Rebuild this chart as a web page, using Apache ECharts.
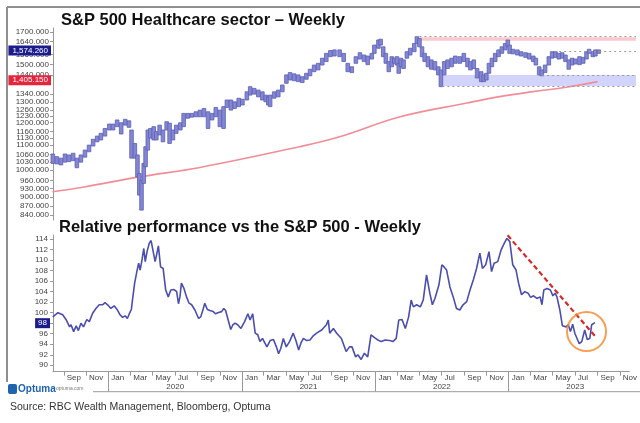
<!DOCTYPE html>
<html><head><meta charset="utf-8">
<script src="https://cdn.jsdelivr.net/npm/echarts@6/dist/echarts.min.js"></script>
<style>html,body{margin:0;padding:0;background:#fff}#c{width:640px;height:423px}</style>
</head><body><div id="c"></div>
<script>
// ---------- DATA ----------
const topDates = ['2019-08-02','2019-08-13','2019-08-24','2019-09-04','2019-09-15','2019-09-26','2019-10-06','2019-10-17','2019-10-28','2019-11-08','2019-11-19','2019-11-30','2019-12-10','2019-12-21','2020-01-02','2020-01-12','2020-01-23','2020-02-03','2020-02-14','2020-02-24','2020-03-02','2020-03-11','2020-03-18','2020-03-23','2020-03-29','2020-04-04','2020-04-09','2020-04-15','2020-04-22','2020-05-01','2020-05-08','2020-05-17','2020-05-26','2020-06-05','2020-06-13','2020-06-22','2020-07-01','2020-07-12','2020-07-21','2020-08-01','2020-08-12','2020-08-23','2020-09-03','2020-09-14','2020-09-25','2020-10-06','2020-10-16','2020-10-27','2020-11-06','2020-11-15','2020-11-26','2020-12-06','2020-12-17','2020-12-27','2021-01-08','2021-01-17','2021-01-28','2021-02-08','2021-02-19','2021-02-28','2021-03-07','2021-03-12','2021-03-23','2021-04-03','2021-04-14','2021-04-25','2021-05-05','2021-05-16','2021-05-27','2021-06-07','2021-06-18','2021-06-28','2021-07-09','2021-07-20','2021-07-31','2021-08-11','2021-08-22','2021-09-02','2021-09-16','2021-09-27','2021-10-08','2021-10-19','2021-10-30','2021-11-10','2021-11-21','2021-12-01','2021-12-12','2021-12-19','2021-12-30','2022-01-05','2022-01-12','2022-01-19','2022-01-27','2022-02-04','2022-02-11','2022-02-18','2022-02-23','2022-03-01','2022-03-08','2022-03-17','2022-03-26','2022-04-06','2022-04-13','2022-04-20','2022-04-27','2022-05-04','2022-05-13','2022-05-22','2022-06-01','2022-06-10','2022-06-17','2022-06-26','2022-07-05','2022-07-16','2022-07-26','2022-08-07','2022-08-18','2022-08-28','2022-09-05','2022-09-14','2022-09-23','2022-10-04','2022-10-11','2022-10-18','2022-10-25','2022-11-02','2022-11-11','2022-11-20','2022-11-29','2022-12-08','2022-12-15','2022-12-20','2022-12-29','2023-01-10','2023-01-20','2023-02-01','2023-02-11','2023-02-22','2023-03-01','2023-03-10','2023-03-17','2023-03-26','2023-04-05','2023-04-14','2023-04-23','2023-05-02','2023-05-11','2023-05-20','2023-05-29','2023-06-07','2023-06-16','2023-06-27','2023-07-07','2023-07-16','2023-07-23','2023-08-02','2023-08-09','2023-08-18'];
const topHigh = [1063,1052,1046,1063,1059,1066,1046,1059,1079,1100,1125,1139,1151,1173,1193,1193,1212,1199,1215,1208,1166,1107,1059,986,961,1025,1093,1166,1173,1181,1159,1188,1166,1204,1197,1166,1188,1199,1243,1243,1243,1251,1259,1267,1251,1243,1272,1259,1276,1309,1309,1300,1318,1313,1351,1378,1369,1360,1351,1334,1325,1334,1351,1360,1387,1442,1455,1448,1442,1432,1451,1474,1498,1508,1538,1567,1584,1588,1588,1567,1508,1488,1547,1571,1557,1551,1567,1618,1650,1655,1607,1567,1518,1547,1538,1547,1508,1538,1528,1577,1598,1628,1671,1660,1607,1567,1547,1528,1518,1488,1470,1518,1528,1538,1551,1547,1567,1538,1518,1528,1478,1460,1442,1451,1508,1538,1567,1588,1607,1628,1650,1618,1592,1588,1577,1571,1567,1551,1538,1488,1470,1498,1547,1577,1577,1567,1571,1557,1528,1538,1533,1547,1543,1577,1592,1577,1588,1588];
const topLow = [1025,1023,1019,1030,1032,1036,1008,1030,1050,1072,1096,1114,1122,1139,1166,1166,1181,1148,1188,1178,1046,1046,973,907,856,949,1012,1079,1130,1122,1122,1144,1114,1166,1107,1122,1151,1166,1181,1220,1225,1227,1227,1227,1173,1212,1227,1181,1173,1272,1259,1267,1276,1284,1309,1334,1339,1325,1309,1300,1284,1276,1318,1325,1351,1396,1414,1410,1405,1400,1418,1437,1460,1470,1498,1518,1547,1551,1547,1518,1460,1455,1508,1533,1518,1500,1533,1567,1598,1618,1547,1508,1460,1488,1508,1498,1451,1488,1478,1538,1557,1577,1628,1607,1547,1518,1488,1474,1470,1442,1378,1442,1478,1488,1508,1508,1518,1488,1470,1478,1425,1405,1405,1414,1451,1488,1518,1547,1567,1588,1607,1567,1564,1557,1551,1543,1533,1518,1498,1442,1437,1455,1498,1538,1543,1533,1538,1518,1474,1498,1504,1500,1508,1533,1567,1547,1551,1567];

const maDates = ['2019-08-01','2019-10-22','2020-03-23','2020-09-03','2021-05-30','2021-09-16','2022-02-27','2022-08-26','2022-11-23','2023-02-21','2023-05-22','2023-08-15'];
const maValues = [919,935,973,1009,1093,1136,1227,1294,1326,1352,1375,1405];

const relDates = ['2019-08-02','2019-08-16','2019-08-29','2019-09-08','2019-09-17','2019-09-21','2019-09-28','2019-10-05','2019-10-11','2019-10-18','2019-10-25','2019-11-03','2019-11-10','2019-11-19','2019-11-28','2019-12-07','2019-12-16','2019-12-23','2019-12-30','2020-01-08','2020-01-17','2020-01-26','2020-02-02','2020-02-09','2020-02-16','2020-02-22','2020-02-28','2020-03-04','2020-03-07','2020-03-13','2020-03-19','2020-03-24','2020-03-28','2020-04-02','2020-04-07','2020-04-11','2020-04-16','2020-04-22','2020-04-27','2020-05-02','2020-05-08','2020-05-13','2020-05-17','2020-05-23','2020-05-30','2020-06-06','2020-06-13','2020-06-20','2020-06-29','2020-07-06','2020-07-11','2020-07-15','2020-07-19','2020-07-26','2020-08-02','2020-08-09','2020-08-16','2020-08-25','2020-09-04','2020-09-10','2020-09-17','2020-09-21','2020-09-28','2020-10-05','2020-10-14','2020-10-20','2020-10-27','2020-11-06','2020-11-12','2020-11-17','2020-11-24','2020-12-01','2020-12-07','2020-12-13','2020-12-20','2020-12-29','2021-01-08','2021-01-17','2021-01-23','2021-01-30','2021-02-06','2021-02-13','2021-02-19','2021-02-26','2021-03-03','2021-03-10','2021-03-19','2021-03-28','2021-04-05','2021-04-11','2021-04-17','2021-04-24','2021-05-02','2021-05-11','2021-05-21','2021-05-28','2021-06-05','2021-06-11','2021-06-18','2021-06-27','2021-07-06','2021-07-15','2021-07-24','2021-08-07','2021-08-20','2021-08-25','2021-08-29','2021-09-08','2021-09-17','2021-09-30','2021-10-13','2021-10-22','2021-10-29','2021-11-08','2021-11-14','2021-11-23','2021-12-02','2021-12-11','2021-12-20','2021-12-29','2022-01-08','2022-01-17','2022-01-28','2022-02-09','2022-02-18','2022-02-27','2022-03-06','2022-03-15','2022-03-24','2022-04-02','2022-04-09','2022-04-15','2022-04-24','2022-05-04','2022-05-12','2022-05-21','2022-05-30','2022-06-06','2022-06-13','2022-06-24','2022-07-02','2022-07-08','2022-07-15','2022-07-24','2022-08-02','2022-08-11','2022-08-20','2022-08-29','2022-09-08','2022-09-17','2022-09-26','2022-10-05','2022-10-09','2022-10-14','2022-10-21','2022-10-30','2022-11-08','2022-11-15','2022-11-22','2022-12-02','2022-12-11','2022-12-20','2022-12-27','2023-01-04','2023-01-12','2023-01-21','2023-01-28','2023-02-05','2023-02-14','2023-02-23','2023-03-02','2023-03-10','2023-03-19','2023-03-28','2023-04-02','2023-04-07','2023-04-16','2023-04-25','2023-05-02','2023-05-08','2023-05-13','2023-05-21','2023-05-28','2023-06-07','2023-06-13','2023-06-19','2023-06-25','2023-07-01','2023-07-13','2023-07-20','2023-07-28','2023-08-04','2023-08-11','2023-08-16','2023-08-25'];
const relValues = [99.2,100.0,99.6,98.6,97.3,97.7,96.4,97.5,96.6,98.0,97.3,98.7,98.3,99.9,100.8,101.5,101.5,101.9,101.5,100.8,101.3,100.5,99.6,99.1,99.4,98.9,99.9,100.6,102.4,105.6,107.8,109.4,108.1,110.0,112.2,109.7,111.6,113.2,113.7,111.9,109.7,111.3,112.7,108.7,108.4,104.3,103.0,104.3,104.4,104.0,101.7,103.0,105.6,104.6,103.0,101.8,101.5,100.5,98.9,99.2,100.8,101.8,100.6,100.4,100.2,99.8,100.0,100.2,100.8,100.4,98.6,96.8,97.7,98.0,97.7,97.0,98.3,99.8,98.6,99.8,96.1,95.8,94.5,95.1,94.8,93.5,94.7,94.9,93.5,92.2,93.2,95.1,93.5,94.5,96.1,94.8,92.9,94.2,95.1,94.7,94.8,95.6,96.1,96.7,97.7,98.6,96.1,97.0,96.1,95.1,92.6,93.5,93.5,91.6,92.0,91.1,92.3,91.6,95.8,95.3,94.8,94.5,94.8,94.7,94.5,95.1,98.6,98.7,97.0,99.2,102.4,101.1,101.5,101.1,102.4,107.2,103.7,101.5,102.7,105.3,109.1,108.7,108.1,104.9,103.0,100.8,100.5,101.5,102.1,104.3,106.2,108.4,108.7,111.3,108.4,109.1,111.6,107.8,109.4,109.7,111.9,113.2,114.1,113.5,109.1,108.1,105.6,103.4,104.0,103.7,102.9,103.2,102.7,103.0,101.5,104.3,104.6,104.3,103.2,103.7,103.0,100.5,97.5,97.3,97.7,96.4,97.8,96.1,94.1,94.5,96.7,94.9,95.1,97.7,98.1];

const topTickValues = [840,870,900,930,960,1000,1030,1060,1100,1130,1160,1200,1230,1260,1300,1340,1440,1500,1560,1640,1700];
const relTickValues = [90,92,94,96,98,100,102,104,106,108,110,112,114];
const monthTicks = ['2019-09-01','2019-11-01','2020-01-01','2020-03-01','2020-05-01','2020-07-01','2020-09-01','2020-11-01','2021-01-01','2021-03-01','2021-05-01','2021-07-01','2021-09-01','2021-11-01','2022-01-01','2022-03-01','2022-05-01','2022-07-01','2022-09-01','2022-11-01','2023-01-01','2023-03-01','2023-05-01','2023-07-01','2023-09-01','2023-11-01'];
const monthNames = ['Jan','Feb','Mar','Apr','May','Jun','Jul','Aug','Sep','Oct','Nov','Dec'];
const yearTicks = ['2020-01-01','2021-01-01','2022-01-01','2023-01-01'];
const yearLabelDates = ['2020-07-02','2021-07-02','2022-07-02','2023-07-02'];

const lastPrice = 1574.26;
const lastMA = 1405.15;
const lastRel = 98;
const resistanceBand = [1645, 1667];  // pink zone
const resistanceLine = 1676;
const resistanceStart = '2022-04-20';
const supportBand = [1381, 1442];     // blue zone
const supportStart = '2022-06-21';
const supportTopLineStart = '2023-03-18';
const recentHighLine = 1578;
const recentHighStart = '2023-05-03';
const trendStart = ['2022-12-29', 114.7];
const trendEnd = ['2023-08-27', 95.4];
const circleAt = ['2023-08-02', 96.4];

// ---------- HELPERS ----------
const EPOCH = Date.UTC(2020, 0, 1);
const day = s => (Date.parse(s) - EPOCH) / 86400000;
const L = v => Math.log10(v);
const xMin = -151.5, xMax = 1425.9;
const FONT = 'Liberation Sans, Arial, sans-serif';
const CLEAR = 'rgba(0,0,0,0)';

const chart = echarts.init(document.getElementById('c'), null, {renderer: 'canvas'});

const barData = topDates.map((d, i) => [day(d), L(topLow[i]), L(topHigh[i])]);
const maData = maDates.map((d, i) => [day(d), L(maValues[i])]);
const relData = relDates.map((d, i) => [day(d), relValues[i]]);

const axisLabelStyle = {fontSize: 8, color: '#444', fontFamily: FONT};

const option = {
  animation: false,
  grid: [
    {left: 53, right: 4, top: 28, height: 192},
    {left: 53, right: 4, top: 235, height: 136.7}
  ],
  xAxis: [
    {gridIndex: 0, type: 'value', min: xMin, max: xMax, show: false},
    {gridIndex: 1, type: 'value', min: xMin, max: xMax, position: 'bottom',
      axisLine: {show: true, onZero: false, lineStyle: {color: '#999', width: 1}},
      splitLine: {show: false},
      axisTick: {show: true, length: 4, lineStyle: {color: '#999'}, customValues: monthTicks.map(day)},
      axisLabel: {show: true, customValues: monthTicks.map(day), align: 'left', padding: [0, 0, 0, 3], margin: 2,
        fontSize: 8, color: '#444', fontFamily: FONT,
        formatter: v => monthNames[new Date(EPOCH + Math.round(v) * 86400000).getUTCMonth()]}
    },
    {gridIndex: 1, type: 'value', min: xMin, max: xMax, position: 'bottom', offset: 20,
      axisLine: {show: false, onZero: false},
      splitLine: {show: false},
      axisTick: {show: true, inside: true, length: 20, lineStyle: {color: '#999'}, customValues: yearTicks.map(day)},
      axisLabel: {show: true, inside: true, margin: 1, customValues: yearLabelDates.map(day),
        fontSize: 8, color: '#444', fontFamily: FONT,
        formatter: v => String(new Date(EPOCH + Math.round(v) * 86400000).getUTCFullYear())}
    }
  ],
  yAxis: [
    {gridIndex: 0, type: 'value', min: L(824), max: L(1728),
      axisLine: {show: true, onZero: false, lineStyle: {color: '#999'}},
      splitLine: {show: false},
      axisTick: {show: true, length: 3, lineStyle: {color: '#999'}, customValues: topTickValues.map(L)},
      axisLabel: Object.assign({customValues: topTickValues.map(L), margin: 4,
        formatter: v => Math.round(Math.pow(10, v)) + '.000'}, axisLabelStyle)
    },
    {gridIndex: 1, type: 'value', min: 88.78, max: 114.76,
      axisLine: {show: true, onZero: false, lineStyle: {color: '#999'}},
      splitLine: {show: false},
      axisTick: {show: true, length: 3, lineStyle: {color: '#999'}, customValues: relTickValues},
      axisLabel: Object.assign({customValues: relTickValues, margin: 5}, axisLabelStyle)
    }
  ],
  series: [
    {
      name: 'MA', type: 'line', xAxisIndex: 0, yAxisIndex: 0, z: 2,
      data: maData, smooth: 0.4, showSymbol: false, symbol: 'none',
      lineStyle: {color: '#f08d96', width: 1.6},
      markArea: {
        silent: true,
        data: [
          [{xAxis: day(resistanceStart), yAxis: L(resistanceBand[0]), itemStyle: {color: '#f8c9cf'}},
           {xAxis: xMax, yAxis: L(resistanceBand[1])}],
          [{xAxis: day(supportStart), yAxis: L(supportBand[0]), itemStyle: {color: '#d2d4fb'}},
           {xAxis: xMax, yAxis: L(supportBand[1])}]
        ]
      },
      markLine: {
        silent: true, symbol: 'none',
        lineStyle: {color: '#999', type: [2, 3], width: 1},
        label: {show: false},
        data: [
          [{coord: [day(resistanceStart), L(resistanceLine)]}, {coord: [xMax, L(resistanceLine)]}],
          [{coord: [day(recentHighStart), L(recentHighLine)]}, {coord: [xMax, L(recentHighLine)]}],
          [{coord: [day(supportTopLineStart), L(supportBand[1])]}, {coord: [xMax, L(supportBand[1])]}],
          [{coord: [day(supportStart), L(supportBand[0])]}, {coord: [xMax, L(supportBand[0])]}]
        ]
      }
    },
    {
      name: 'HC', type: 'custom', xAxisIndex: 0, yAxisIndex: 0, z: 3,
      data: barData,
      encode: {x: 0, y: [1, 2]},
      renderItem: (params, api) => {
        const x = api.value(0);
        const lo = api.coord([x, api.value(1)]);
        const hi = api.coord([x, api.value(2)]);
        return {type: 'rect', shape: {x: lo[0] - 1.8, y: hi[1], width: 3.6, height: Math.max(1.5, lo[1] - hi[1])},
          style: {fill: '#8487d0', stroke: '#5a5eb8', lineWidth: 0.8}};
      },
      markLine: {
        silent: true, symbol: 'none',
        lineStyle: {color: CLEAR, width: 1},
        label: {show: true, position: 'start', distance: 2, fontSize: 8, fontFamily: FONT, color: '#fff', padding: [1, 3, 1, 4]},
        data: [
          {yAxis: L(lastPrice), label: {backgroundColor: '#1b1b8e', formatter: () => lastPrice.toLocaleString('en-US', {minimumFractionDigits: 3})}},
          {yAxis: L(lastMA), label: {backgroundColor: '#e3263e', formatter: () => lastMA.toLocaleString('en-US', {minimumFractionDigits: 3})}}
        ]
      }
    },
    {
      name: 'Rel', type: 'line', xAxisIndex: 1, yAxisIndex: 1, z: 3,
      data: relData, showSymbol: false, symbol: 'none',
      lineStyle: {color: '#4a4eae', width: 1.6},
      markLine: {
        silent: true, symbol: 'none',
        data: [
          [{coord: [day(trendStart[0]), trendStart[1]], lineStyle: {color: '#d42a2a', width: 2.2, type: [5, 3]}, label: {show: false}},
           {coord: [day(trendEnd[0]), trendEnd[1]]}],
          {yAxis: lastRel, lineStyle: {color: CLEAR, width: 1},
           label: {show: true, position: 'start', distance: 3, fontSize: 8, fontFamily: FONT, color: '#fff',
             padding: [1, 3, 1, 3], backgroundColor: '#1b1b8e', formatter: () => String(lastRel)}}
        ]
      }
    },
    {
      name: 'circle', type: 'scatter', xAxisIndex: 1, yAxisIndex: 1, z: 6, silent: true,
      data: [[day(circleAt[0]), circleAt[1]]],
      symbol: 'circle', symbolSize: 39,
      itemStyle: {color: CLEAR, borderColor: '#f5872a', borderWidth: 2}
    }
  ],
  graphic: [
    {type: 'line', silent: true, shape: {x1: 7, y1: 7, x2: 640, y2: 7}, style: {stroke: '#8f8f8f', lineWidth: 2}},
    {type: 'line', silent: true, shape: {x1: 7, y1: 7, x2: 7, y2: 382}, style: {stroke: '#8f8f8f', lineWidth: 2}},
    {type: 'line', silent: true, shape: {x1: 93, y1: 391.7, x2: 640, y2: 391.7}, style: {stroke: '#999', lineWidth: 1}},
    {type: 'text', silent: true, x: 61, y: 20,
      style: {text: 'S&P 500 Healthcare sector – Weekly', font: 'bold 16.5px ' + FONT, fill: '#111',
        textAlign: 'left', textVerticalAlign: 'middle', align: 'left', verticalAlign: 'middle'}},
    {type: 'text', silent: true, x: 59, y: 227,
      style: {text: 'Relative performance vs the S&P 500 - Weekly', font: 'bold 16.5px ' + FONT, fill: '#111',
        textAlign: 'left', textVerticalAlign: 'middle', align: 'left', verticalAlign: 'middle'}},
    {type: 'rect', silent: true, shape: {x: 8, y: 384, width: 9, height: 10, r: 2}, style: {fill: '#1e63ad'}},
    {type: 'text', silent: true, x: 18, y: 389,
      style: {text: 'Optuma', font: 'bold 10px ' + FONT, fill: '#1e63ad', textAlign: 'left', textVerticalAlign: 'middle', align: 'left', verticalAlign: 'middle'}},
    {type: 'text', silent: true, x: 56, y: 389,
      style: {text: 'optuma.com', font: '5px ' + FONT, fill: '#777', textAlign: 'left', textVerticalAlign: 'middle', align: 'left', verticalAlign: 'middle'}},
    {type: 'text', silent: true, x: 10, y: 407,
      style: {text: 'Source: RBC Wealth Management, Bloomberg, Optuma', font: '10.5px ' + FONT, fill: '#333',
        textAlign: 'left', textVerticalAlign: 'middle', align: 'left', verticalAlign: 'middle'}}
  ]
};
chart.setOption(option);
</script>
</body></html>
